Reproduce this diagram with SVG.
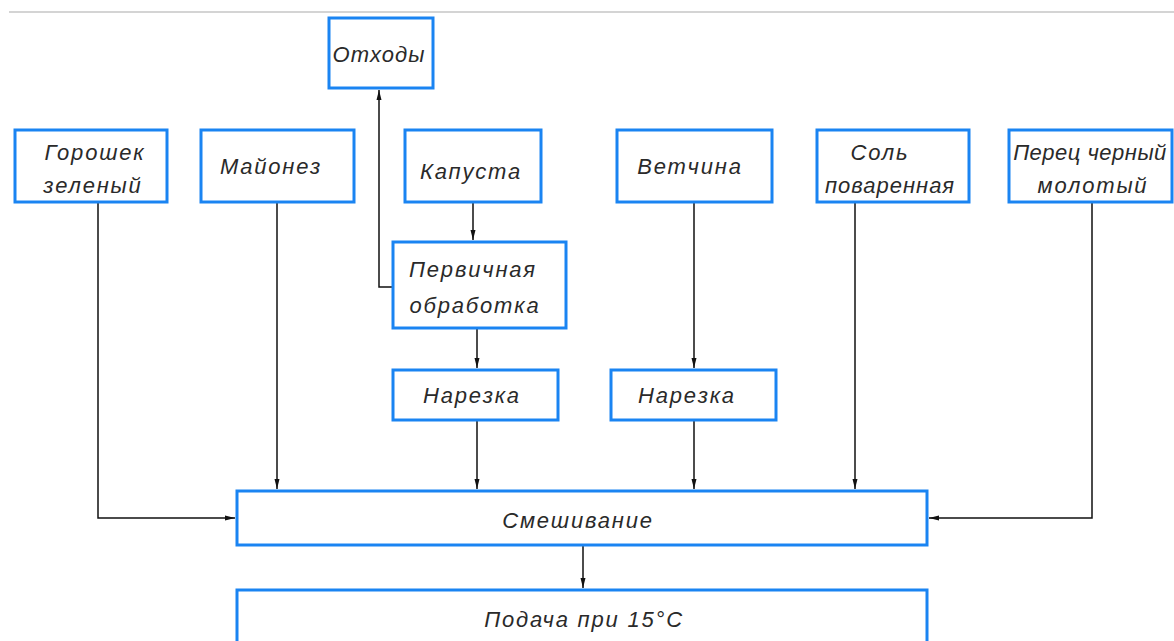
<svg xmlns="http://www.w3.org/2000/svg" width="1174" height="641" viewBox="0 0 1174 641">
<style>
.box{fill:#fff;stroke:#1a84f2;stroke-width:3}
.t{font-family:"Liberation Sans",sans-serif;font-style:italic;font-size:22px;letter-spacing:1.8px;fill:#2a2a2a;text-anchor:middle}
.c{fill:none;stroke:#111;stroke-width:1.5}
</style>
<defs>
<marker id="ar" viewBox="0 0 10 6" refX="10" refY="3" markerWidth="10" markerHeight="6" markerUnits="userSpaceOnUse" orient="auto">
<path d="M0,0.5 L10,3 L0,5.5 Z" fill="#111"/>
</marker>
</defs>
<rect width="1174" height="641" fill="#fff"/>
<line x1="9" y1="12" x2="1174" y2="12" stroke="#d4d4d4" stroke-width="2"/>
<g id="connectors">
<polyline class="c" points="98,202 98,518 235,518" marker-end="url(#ar)"/>
<line class="c" x1="277" y1="202" x2="277" y2="489" marker-end="url(#ar)"/>
<line class="c" x1="473" y1="202" x2="473" y2="240" marker-end="url(#ar)"/>
<polyline class="c" points="393,287 379,287 379,90" marker-end="url(#ar)"/>
<line class="c" x1="477" y1="328" x2="477" y2="368" marker-end="url(#ar)"/>
<line class="c" x1="477" y1="420" x2="477" y2="489" marker-end="url(#ar)"/>
<line class="c" x1="694" y1="202" x2="694" y2="368" marker-end="url(#ar)"/>
<line class="c" x1="694" y1="420" x2="694" y2="489" marker-end="url(#ar)"/>
<line class="c" x1="855" y1="202" x2="855" y2="489" marker-end="url(#ar)"/>
<polyline class="c" points="1092,202 1092,518 929,518" marker-end="url(#ar)"/>
<line class="c" x1="583" y1="545" x2="583" y2="588" marker-end="url(#ar)"/>
</g>
<g id="otkhody"><rect class="box" x="329" y="18" width="104" height="70"/><text class="t" x="379" y="62" style="letter-spacing:1px">Отходы</text></g>
<g id="goroshek"><rect class="box" x="15" y="130" width="152" height="72"/><text class="t" x="95" y="160">Горошек</text><text class="t" x="93" y="193">зеленый</text></g>
<g id="mayonez"><rect class="box" x="201" y="130" width="153" height="72"/><text class="t" x="271" y="174">Майонез</text></g>
<g id="kapusta"><rect class="box" x="405" y="130" width="136" height="72"/><text class="t" x="471" y="179">Капуста</text></g>
<g id="vetchina"><rect class="box" x="617" y="130" width="155" height="72"/><text class="t" x="690" y="174">Ветчина</text></g>
<g id="sol"><rect class="box" x="817" y="130" width="152" height="72"/><text class="t" x="880" y="160">Соль</text><text class="t" x="890" y="193" style="letter-spacing:1px">поваренная</text></g>
<g id="perets"><rect class="box" x="1009" y="130" width="163" height="72"/><text class="t" x="1090" y="160" style="letter-spacing:0.5px">Перец черный</text><text class="t" x="1093" y="193">молотый</text></g>
<g id="pervichnaya"><rect class="box" x="393" y="242" width="173" height="86"/><text class="t" x="473" y="277">Первичная</text><text class="t" x="475" y="313">обработка</text></g>
<g id="narezka1"><rect class="box" x="393" y="370" width="165" height="50"/><text class="t" x="472" y="403">Нарезка</text></g>
<g id="narezka2"><rect class="box" x="611" y="370" width="165" height="50"/><text class="t" x="687" y="403">Нарезка</text></g>
<g id="smeshivanie"><rect class="box" x="237" y="491" width="690" height="54"/><text class="t" x="578" y="528">Смешивание</text></g>
<g id="podacha"><rect class="box" x="237" y="590" width="690" height="70"/><text class="t" x="584" y="627">Подача при 15°C</text></g>
</svg>
